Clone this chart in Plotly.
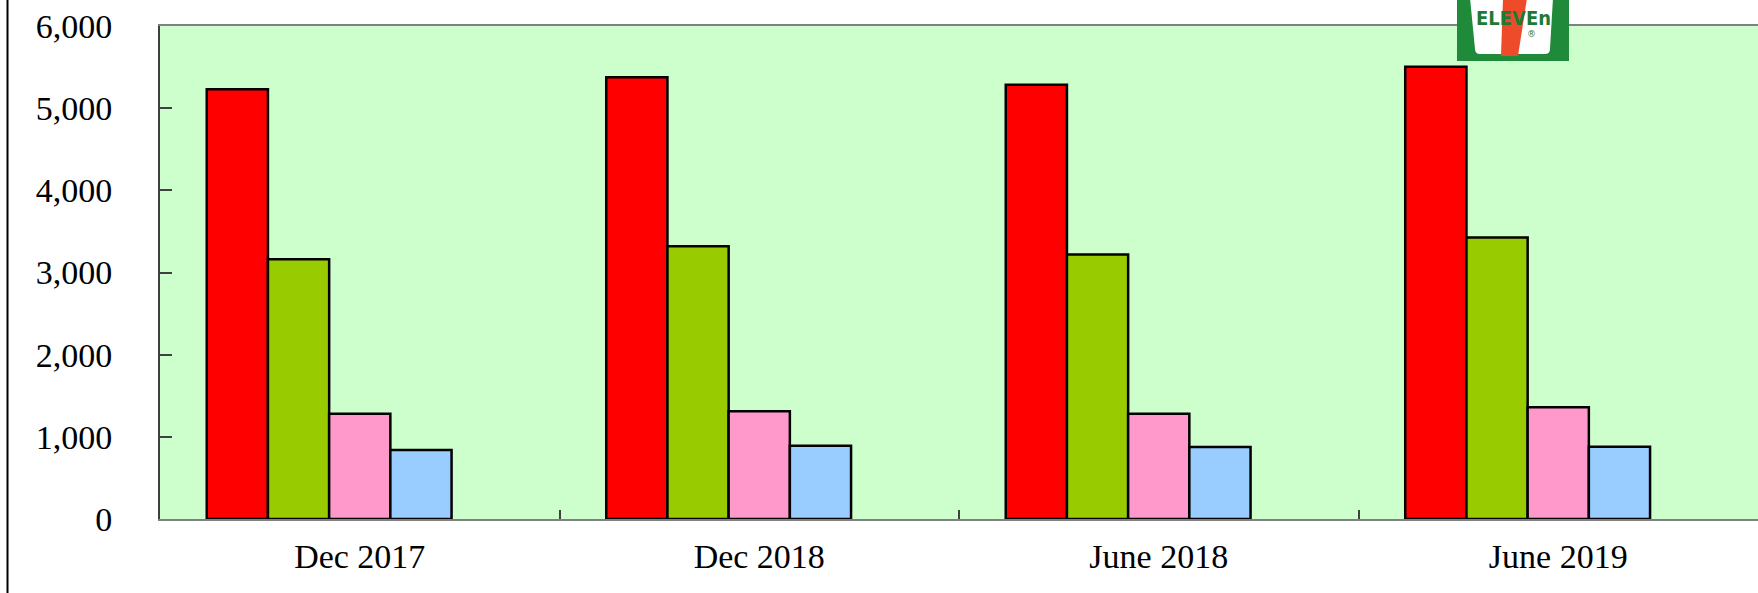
import plotly.graph_objects as go

categories = ["Dec 2017", "Dec 2018", "June 2018", "June 2019"]
series_a = [5230, 5375, 5285, 5505]
series_b = [3160, 3320, 3220, 3425]
series_c = [1280, 1310, 1280, 1360]
series_d = [840, 890, 875, 880]
series_e = [0, 0, 0, 0]  # empty fifth series slot
y_ticks = [0, 1000, 2000, 3000, 4000, 5000, 6000]

colors = ["#FF0000", "#99CC00", "#FF99CC", "#99CCFF", "rgba(0,0,0,0)"]
all_series = [series_a, series_b, series_c, series_d, series_e]

W, H = 1758, 593
L, R, T, B = 160, 0, 26, 74
PW, PH = W - L - R, H - T - B


def px(x):
    return (x - L) / PW


def py(y):
    return (H - B - y) / PH


fig = go.Figure()
for i, (vals, col) in enumerate(zip(all_series, colors)):
    fig.add_trace(go.Bar(
        x=categories, y=vals,
        marker=dict(color=col, line=dict(color="#000000", width=2.5 if i < 4 else 0)),
        showlegend=False, hoverinfo="skip",
    ))

serif = "Liberation Serif, Times New Roman, serif"

shapes = [
    # left page border line
    dict(type="line", xref="paper", yref="paper", x0=px(7.5), x1=px(7.5), y0=py(-2), y1=py(H + 2),
         line=dict(color="#000000", width=2), layer="above"),
    # logo green box
    dict(type="rect", xref="paper", yref="paper", x0=px(1457), x1=px(1569), y0=py(61), y1=py(-2),
         fillcolor="#1F8A3A", line=dict(width=0), layer="above"),
]
# white panel with rounded bottom corners
wp = (f"M {px(1470)},{py(-2)} L {px(1553)},{py(-2)} L {px(1550)},{py(49)} "
      f"Q {px(1550)},{py(54)} {px(1545)},{py(54)} L {px(1480)},{py(54)} "
      f"Q {px(1475)},{py(54)} {px(1475)},{py(49)} Z")
shapes.append(dict(type="path", xref="paper", yref="paper", path=wp,
                   fillcolor="#FFFFFF", line=dict(width=0), layer="above"))
# orange seven stroke
sv = (f"M {px(1503)},{py(-2)} L {px(1527)},{py(-2)} L {px(1518)},{py(56)} "
      f"L {px(1501)},{py(56)} Z")
shapes.append(dict(type="path", xref="paper", yref="paper", path=sv,
                   fillcolor="#EE4B2B", line=dict(width=0), layer="above"))

annotations = [
    dict(text="<b>ELEVEn</b>", xref="paper", yref="paper", x=px(1513.5), y=py(17.5),
         showarrow=False, xanchor="center", yanchor="middle",
         font=dict(family="Liberation Sans Narrow, DejaVu Sans Condensed, sans-serif",
                   size=20, color="#1F7A35")),
    dict(text="®", xref="paper", yref="paper", x=px(1531), y=py(34),
         showarrow=False, xanchor="center", yanchor="middle",
         font=dict(family="DejaVu Sans", size=9, color="#1F7A35")),
]

fig.update_layout(
    width=W, height=H,
    margin=dict(l=L, r=R, t=T, b=B, pad=0),
    paper_bgcolor="#FFFFFF",
    plot_bgcolor="#CCFFCC",
    barmode="group",
    bargap=0.234,
    bargroupgap=0,
    font=dict(family=serif, color="#000000", size=34),
    shapes=shapes,
    annotations=annotations,
    xaxis=dict(
        type="category",
        range=[-0.5, 3.5],
        showline=True, linecolor="#808080", linewidth=2, mirror=True,
        ticks="inside", tickson="boundaries", ticklen=9, tickcolor="#404040", tickwidth=1.5,
        showgrid=False, zeroline=False,
        tickfont=dict(family=serif, size=34, color="#000000"),
        ticklabelstandoff=6,
    ),
    yaxis=dict(
        range=[0, 6000],
        tickvals=y_ticks,
        ticktext=[f"{v:,}" for v in y_ticks],
        showline=True, linecolor="#404040", linewidth=2, mirror=False,
        ticks="inside", ticklen=12, tickcolor="#404040", tickwidth=1.5,
        showgrid=False, zeroline=False,
        tickfont=dict(family=serif, size=34, color="#000000"),
        ticklabelstandoff=39,
    ),
)

fig.write_html(
    "out.html",
    config={"displayModeBar": False},
    post_script="document.body.style.margin='0';document.body.style.overflow='hidden';",
)
